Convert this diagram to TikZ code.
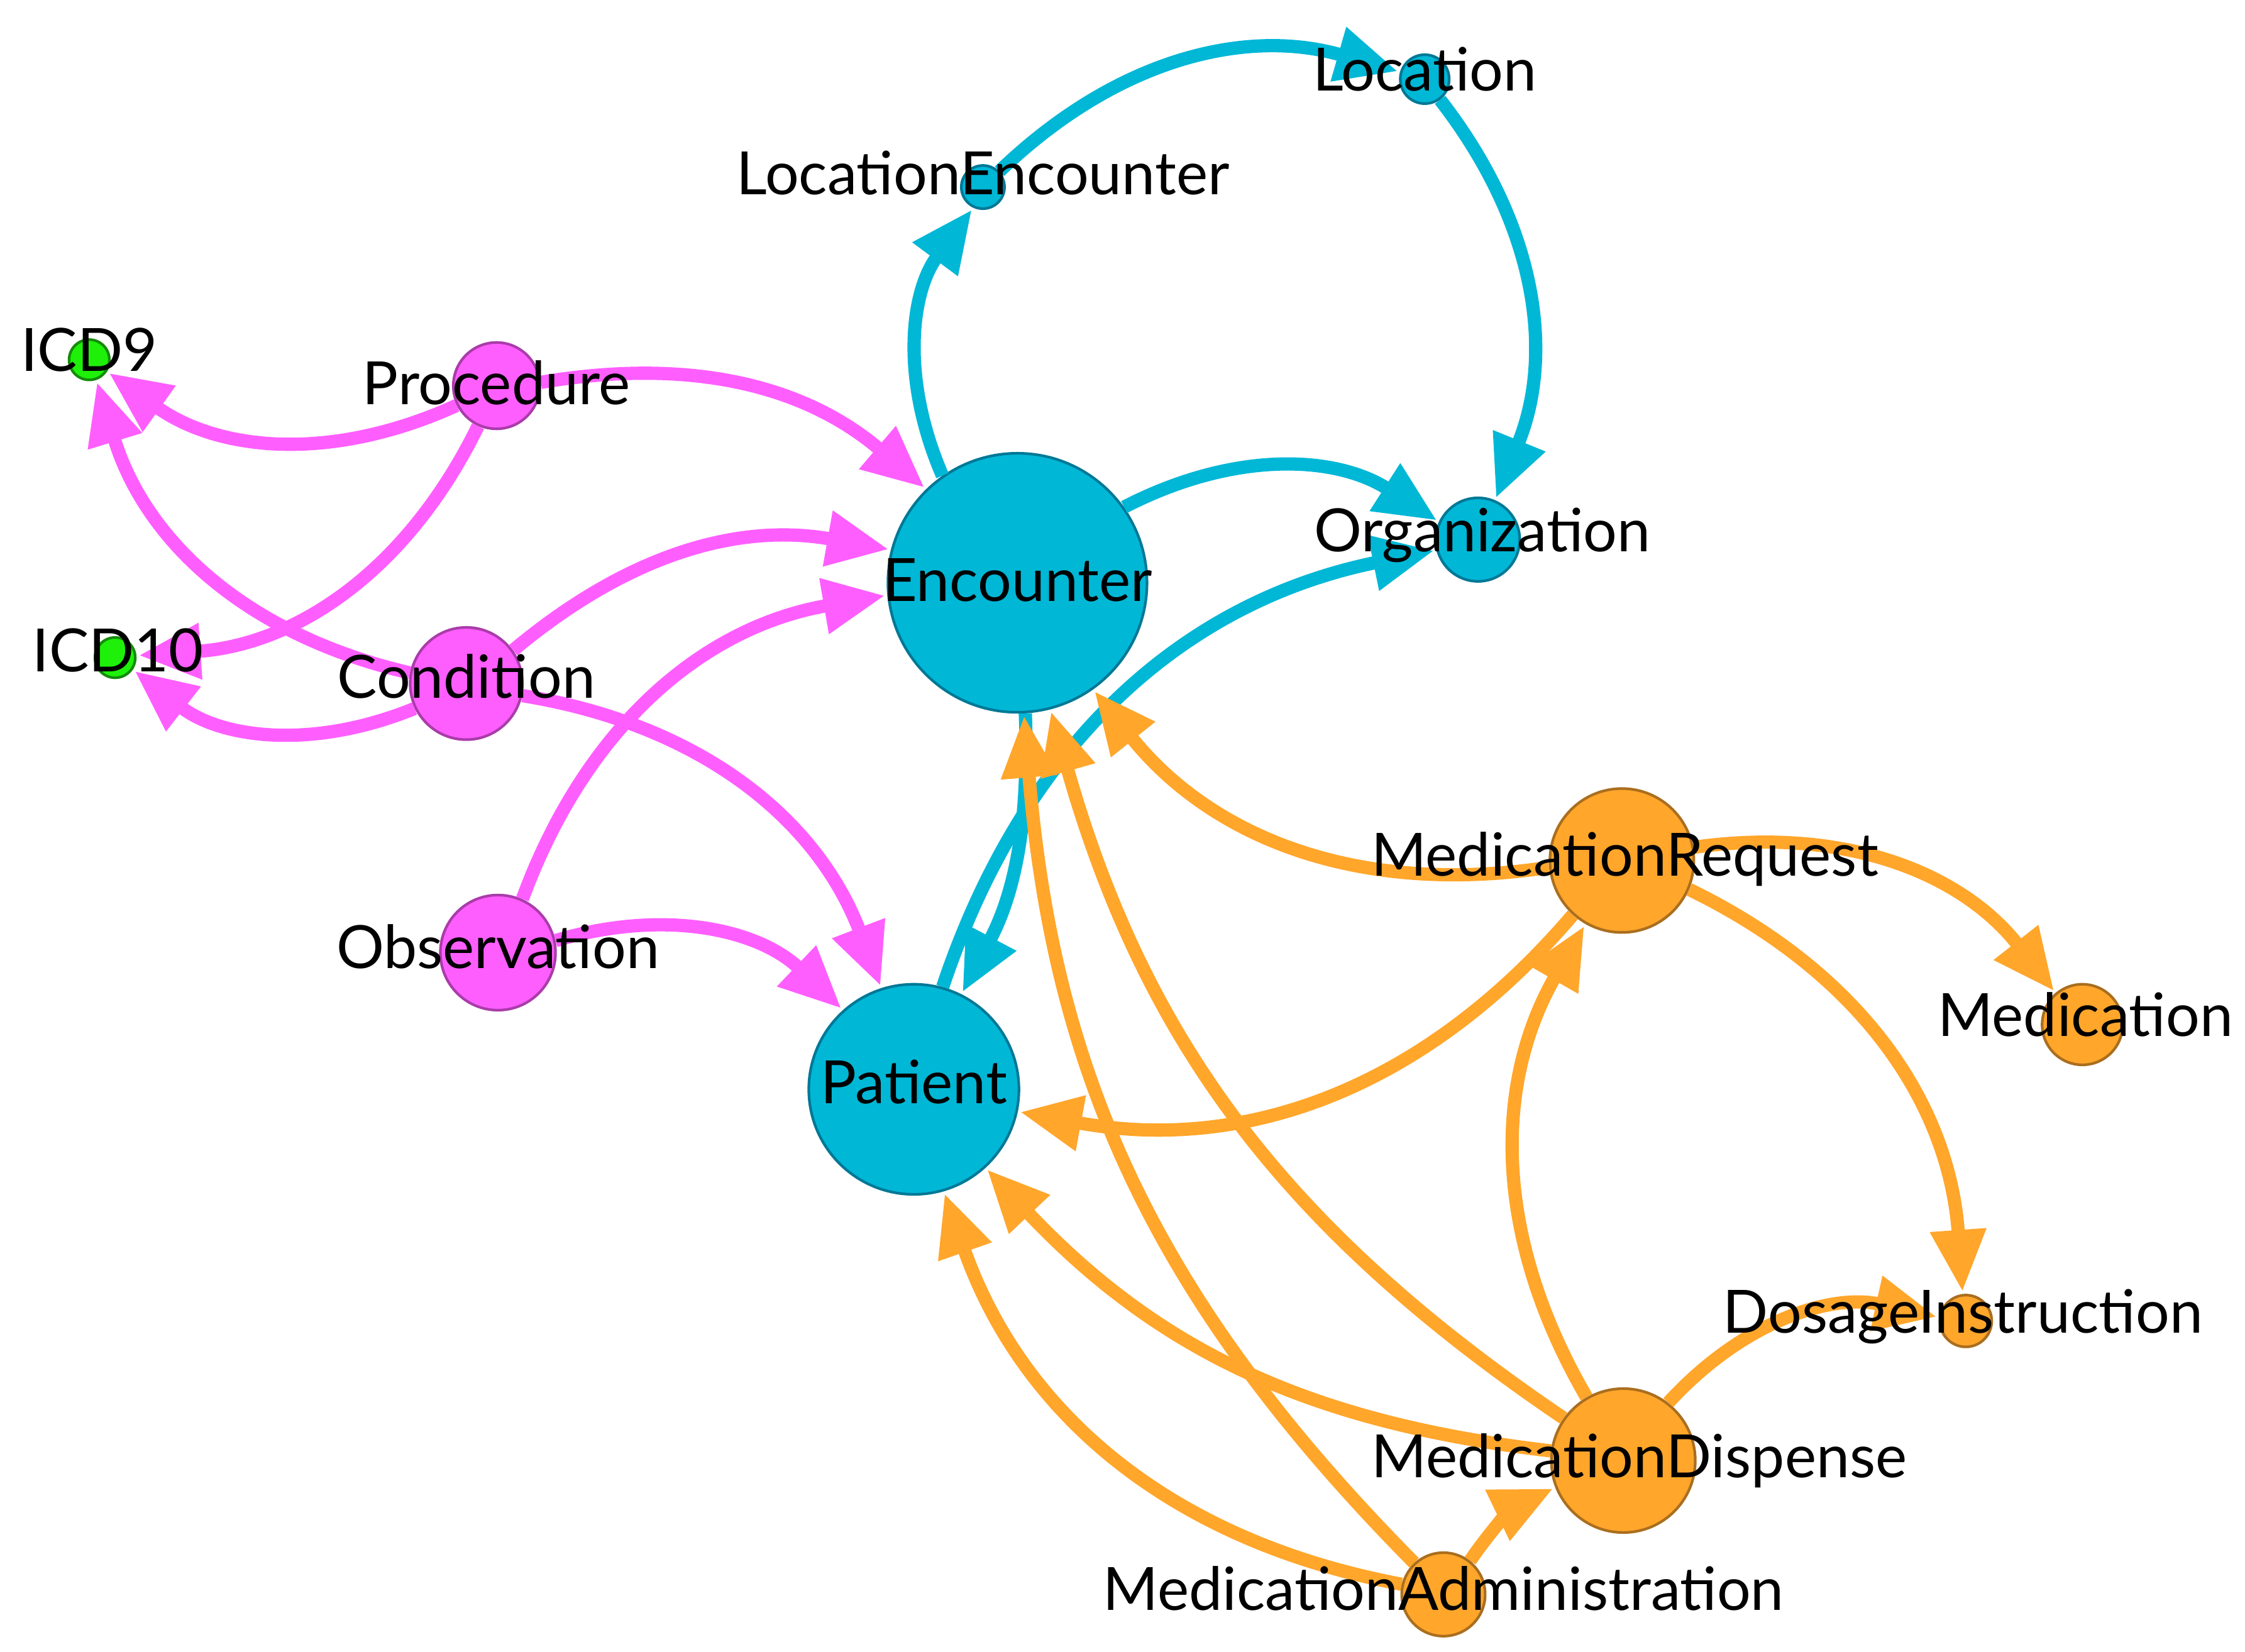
\documentclass[tikz,border=0pt]{standalone}
\usepackage{fontspec}
\setmainfont{Lato}
\usetikzlibrary{arrows.meta}
\definecolor{cy}{RGB}{0,183,214}
\definecolor{cyd}{RGB}{0,120,150}
\definecolor{mg}{RGB}{255,94,255}
\definecolor{mgd}{RGB}{170,60,170}
\definecolor{og}{RGB}{255,166,43}
\definecolor{ogd}{RGB}{170,110,30}
\definecolor{gr}{RGB}{30,240,10}
\definecolor{grd}{RGB}{20,140,10}
\begin{document}
\begin{tikzpicture}[x=0.02289cm,y=-0.02289cm,
 nd/.style={circle,inner sep=0pt,line width=1.2pt,minimum size=#1*0.02289cm},
 c/.style={nd=#1,fill=cy,draw=cyd},
 m/.style={nd=#1,fill=mg,draw=mgd},
 o/.style={nd=#1,fill=og,draw=ogd},
 g/.style={nd=#1,fill=gr,draw=grd},
 lb/.style={font=\fontsize{27}{31}\selectfont,inner sep=0pt},
 e/.style={line width=6pt,-{Triangle[length=28pt,width=24pt]},bend left=30,shorten >=1pt}]
\useasboundingbox (0,0) rectangle (1560,1148);
\node[c=34] (loc) at (990,55) {};
\node[c=30] (le) at (683,130) {};
\node[g=28] (icd9) at (62,250) {};
\node[m=60] (proc) at (345,268) {};
\node[c=180] (enc) at (707,405) {};
\node[c=58] (org) at (1027,375) {};
\node[g=28] (icd10) at (80,457) {};
\node[m=78] (cond) at (324,475) {};
\node[o=100] (mr) at (1127,598) {};
\node[m=80] (obs) at (346,662) {};
\node[c=146] (pat) at (635,757) {};
\node[o=56] (med) at (1447,712) {};
\node[o=36] (di) at (1366,918) {};
\node[o=100] (md) at (1128,1015) {};
\node[o=58] (ma) at (1003,1108) {};
\draw[e,cy] (enc) to (le);
\draw[e,cy] (le) to (loc);
\draw[e,cy] (loc) to (org);
\draw[e,cy] (enc) to (org);
\draw[e,cy] (pat) to (org);
\draw[e,cy,bend left=15] (enc) to (pat);
\draw[e,mg] (proc) to (icd9);
\draw[e,mg] (proc) to (icd10);
\draw[e,mg,bend left=25] (proc) to (enc);
\draw[e,mg] (cond) to (icd9);
\draw[e,mg] (cond) to (icd10);
\draw[e,mg,bend left=25] (cond) to (enc);
\draw[e,mg] (cond) to (pat);
\draw[e,mg] (obs) to (enc);
\draw[e,mg] (obs) to (pat);
\draw[e,og] (mr) to (enc);
\draw[e,og] (mr) to (med);
\draw[e,og] (mr) to (di);
\draw[e,og] (mr) to (pat);
\draw[e,og] (md) to (mr);
\draw[e,og,bend left=20] (md) to (enc);
\draw[e,og,bend left=20] (md) to (pat);
\draw[e,og] (md) to (di);
\draw[e,og] (ma) to (pat);
\draw[e,og,bend left=20] (ma) to (enc);
\draw[e,og,bend left=15] (ma) to (md);
\node[lb] at (990,48) {Location};
\node[lb] at (683,120) {LocationEncounter};
\node[lb] at (62,243) {ICD9};
\node[lb] at (345,266) {Procedure};
\node[lb] at (707,403) {Encounter};
\node[lb] at (1030,372) {Organization};
\node[lb] at (82,452) {ICD10};
\node[lb] at (324,470) {Condition};
\node[lb] at (1129,597) {MedicationRequest};
\node[lb] at (346,658) {Observation};
\node[lb] at (635,752) {Patient};
\node[lb] at (1449,705) {Medication};
\node[lb] at (1364,915) {DosageInstruction};
\node[lb] at (1139,1015) {MedicationDispense};
\node[lb] at (1003,1104) {MedicationAdministration};
\end{tikzpicture}
\end{document}
